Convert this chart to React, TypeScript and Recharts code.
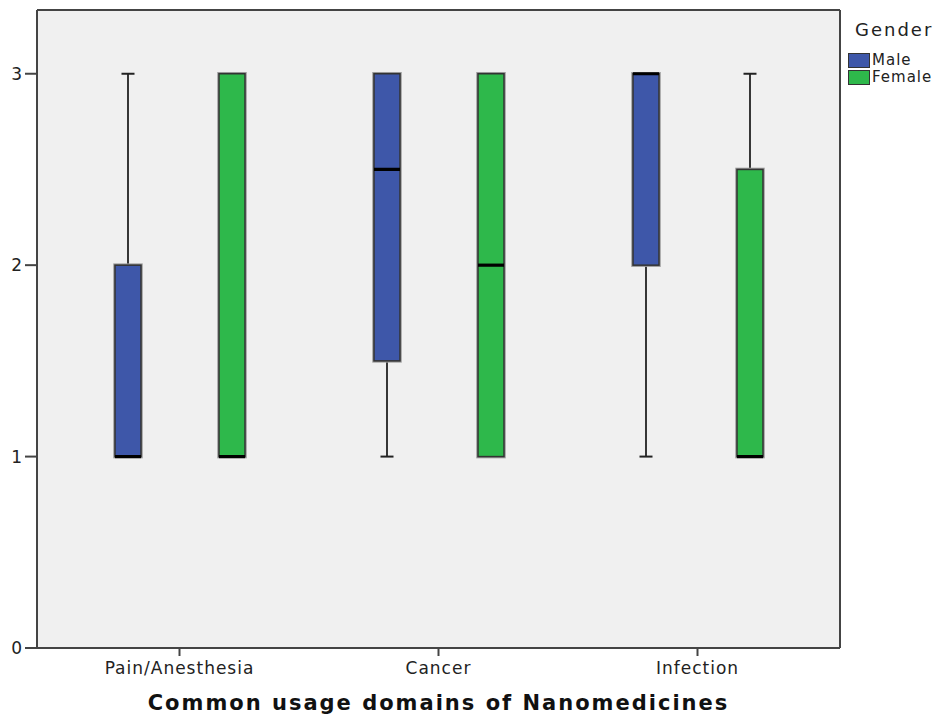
import React from 'react';
import { ComposedChart, Bar, XAxis, YAxis, Legend, CartesianGrid } from 'recharts';

const categories = ['Pain/Anesthesia', 'Cancer', 'Infection'];
const seriesNames = ['Male', 'Female'];

const maleMin = [1, 1, 1];
const maleQ1 = [1, 1.5, 2];
const maleMedian = [1, 2.5, 3];
const maleQ3 = [2, 3, 3];
const maleMax = [3, 3, 3];

const femaleMin = [1, 1, 1];
const femaleQ1 = [1, 1, 1];
const femaleMedian = [1, 2, 1];
const femaleQ3 = [3, 3, 2.5];
const femaleMax = [3, 3, 3];

const yTicks = [0, 1, 2, 3];

const MALE_COLOR = '#3E57A9';
const FEMALE_COLOR = '#2EB84B';

const data = categories.map((c, i) => ({
  category: c,
  male: { min: maleMin[i], q1: maleQ1[i], median: maleMedian[i], q3: maleQ3[i], max: maleMax[i] },
  female: { min: femaleMin[i], q1: femaleQ1[i], median: femaleMedian[i], q3: femaleQ3[i], max: femaleMax[i] },
}));

const makeBoxShape = (key: 'male' | 'female', color: string) => (props: any) => {
  const { x, y, width, height, payload } = props;
  const s = payload[key];
  const top = Math.min(y, y + height);
  const bottom = Math.max(y, y + height);
  const span = s.max - s.min;
  const py = (v: number) => top + (span === 0 ? 0 : ((s.max - v) / span) * (bottom - top));
  const cx = x + width / 2;
  const bw = 26;
  const cap = 13;
  const boxTop = py(s.q3);
  const boxBottom = py(s.q1);
  return (
    <g>
      {s.max > s.q3 && (
        <g>
          <line x1={cx} x2={cx} y1={py(s.max)} y2={boxTop} stroke="#222" strokeWidth={1.8} />
          <line x1={cx - cap / 2} x2={cx + cap / 2} y1={py(s.max)} y2={py(s.max)} stroke="#222" strokeWidth={2} />
        </g>
      )}
      {s.min < s.q1 && (
        <g>
          <line x1={cx} x2={cx} y1={boxBottom} y2={py(s.min)} stroke="#222" strokeWidth={1.8} />
          <line x1={cx - cap / 2} x2={cx + cap / 2} y1={py(s.min)} y2={py(s.min)} stroke="#222" strokeWidth={2} />
        </g>
      )}
      <rect x={cx - bw / 2} y={boxTop} width={bw} height={boxBottom - boxTop} fill="none" stroke="#9a9a9a" strokeWidth={3.5} />
      <rect x={cx - bw / 2} y={boxTop} width={bw} height={boxBottom - boxTop} fill={color} stroke="#333" strokeWidth={1.5} />
      <line x1={cx - bw / 2} x2={cx + bw / 2} y1={py(s.median)} y2={py(s.median)} stroke="#000" strokeWidth={3.2} />
    </g>
  );
};

const renderLegend = (props: any) => {
  const payload = [...(props.payload || [])].sort(
    (a: any, b: any) => seriesNames.indexOf(a.value) - seriesNames.indexOf(b.value)
  );
  return (
    <div style={{ fontFamily: 'DejaVu Sans', color: '#222' }}>
      <div style={{ fontSize: 18, letterSpacing: 2, marginLeft: 7, lineHeight: '22px' }}>Gender</div>
      <div style={{ marginTop: 11 }}>
        {payload.map((entry: any) => (
          <div key={entry.value} style={{ display: 'flex', alignItems: 'center', height: 17 }}>
            <span
              style={{
                width: 22,
                height: 15,
                background: entry.color,
                border: '1px solid #333',
                display: 'inline-block',
                boxSizing: 'border-box',
              }}
            />
            <span style={{ fontSize: 15, marginLeft: 2, letterSpacing: 1, lineHeight: '17px' }}>{entry.value}</span>
          </div>
        ))}
      </div>
    </div>
  );
};

const tickStyle = { fontFamily: 'DejaVu Sans', fontSize: 17, fill: '#222', letterSpacing: 1 };

export default function App() {
  return (
    <div style={{ position: 'absolute', left: 0, top: 0, width: 941, height: 715, background: '#fff' }}>
      <ComposedChart
        width={941}
        height={715}
        data={data}
        margin={{ top: 9, right: 100, bottom: 0, left: 0 }}
        barCategoryGap={26}
        barGap={0}
      >
        <CartesianGrid fill="#F0F0F0" horizontal={false} vertical={false} />
        <XAxis
          dataKey="category"
          height={67}
          padding={{ left: 13, right: 13 }}
          tickSize={8}
          tickMargin={6}
          axisLine={{ stroke: '#444', strokeWidth: 2 }}
          tickLine={{ stroke: '#444', strokeWidth: 2 }}
          tick={tickStyle}
          interval={0}
          label={{
            value: 'Common usage domains of Nanomedicines',
            position: 'insideBottom',
            offset: 5,
            style: { fontFamily: 'DejaVu Sans', fontWeight: 'bold', fontSize: 21, letterSpacing: 2, fill: '#111' },
          }}
        />
        <XAxis
          xAxisId="top"
          orientation="top"
          dataKey="category"
          height={1}
          tick={false}
          tickLine={false}
          axisLine={{ stroke: '#444', strokeWidth: 2 }}
        />
        <YAxis
          width={37}
          domain={[0, 3.333]}
          ticks={yTicks}
          tickSize={12}
          tickMargin={2}
          axisLine={{ stroke: '#444', strokeWidth: 2 }}
          tickLine={{ stroke: '#444', strokeWidth: 2 }}
          tick={tickStyle}
          allowDataOverflow
        />
        <YAxis
          yAxisId="right"
          orientation="right"
          width={1}
          domain={[0, 3.333]}
          tick={false}
          tickLine={false}
          axisLine={{ stroke: '#444', strokeWidth: 2 }}
        />
        <Legend
          layout="vertical"
          align="center"
          verticalAlign="middle"
          wrapperStyle={{ left: 848, top: 19, width: 93 }}
          content={renderLegend}
        />
        <Bar
          name="Male"
          dataKey={(d: any) => [d.male.min, d.male.max]}
          fill={MALE_COLOR}
          shape={makeBoxShape('male', MALE_COLOR)}
          isAnimationActive={false}
        />
        <Bar
          name="Female"
          dataKey={(d: any) => [d.female.min, d.female.max]}
          fill={FEMALE_COLOR}
          shape={makeBoxShape('female', FEMALE_COLOR)}
          isAnimationActive={false}
        />
      </ComposedChart>
    </div>
  );
}
